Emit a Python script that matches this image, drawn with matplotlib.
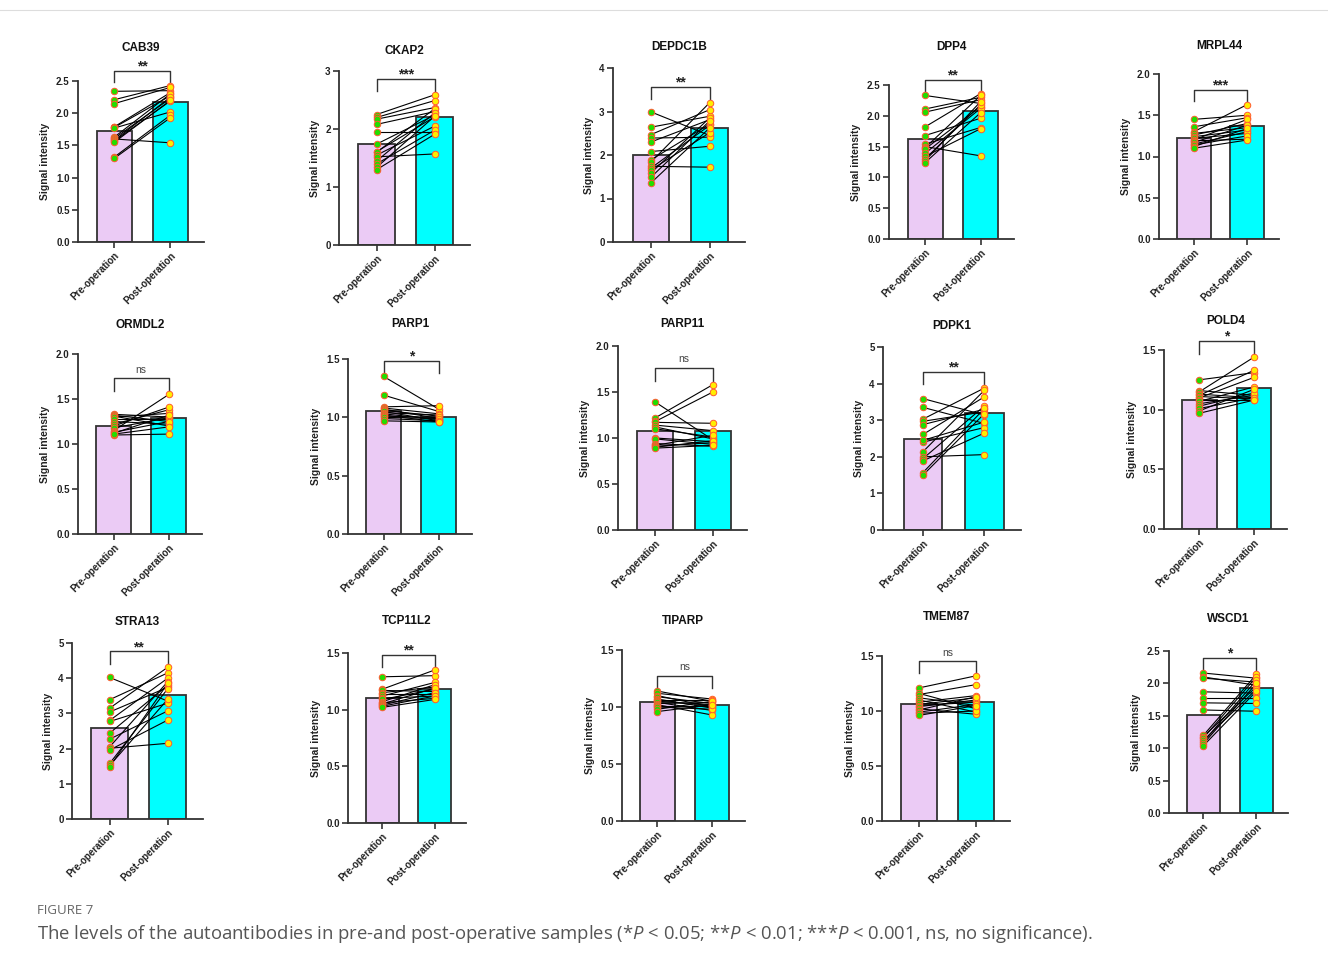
import matplotlib
matplotlib.use('Agg')
import matplotlib.pyplot as plt
from matplotlib.lines import Line2D

W, H = 1328, 967

genes = ['CAB39', 'CKAP2', 'DEPDC1B', 'DPP4', 'MRPL44',
         'ORMDL2', 'PARP1', 'PARP11', 'PDPK1', 'POLD4',
         'STRA13', 'TCP11L2', 'TIPARP', 'TMEM87', 'WSCD1']
sig = ['**', '***', '**', '**', '***',
       'ns', '*', 'ns', '**', '*',
       '**', '**', 'ns', 'ns', '*']
y_max = [2.5, 3, 4, 2.5, 2.0, 2.0, 1.5, 2.0, 5, 1.5, 5, 1.5, 1.5, 1.5, 2.5]
y_step = [0.5, 1, 1, 0.5, 0.5, 0.5, 0.5, 0.5, 1, 0.5, 1, 0.5, 0.5, 0.5, 0.5]
pre_mean = [1.72, 1.75, 2.01, 1.63, 1.23, 1.20, 1.05, 1.08, 2.49, 1.08,
            2.58, 1.10, 1.04, 1.06, 1.52]
post_mean = [2.17, 2.20, 2.61, 2.07, 1.37, 1.29, 1.00, 1.08, 3.21, 1.18,
             3.53, 1.18, 1.02, 1.08, 1.93]
groups = ['Pre-operation', 'Post-operation']

# paired samples, same order in pre and post
cab39_pre = [2.34, 2.21, 2.15, 1.79, 1.78, 1.77, 1.63, 1.61, 1.60, 1.58, 1.57, 1.55, 1.32, 1.30]
cab39_post = [2.35, 2.43, 2.40, 2.32, 2.27, 2.02, 2.30, 2.23, 1.54, 2.25, 2.19, 2.20, 1.97, 1.93]
ckap2_pre = [2.25, 2.20, 2.17, 2.08, 1.94, 1.74, 1.61, 1.60, 1.55, 1.52, 1.45, 1.40, 1.34, 1.30]
ckap2_post = [2.59, 2.49, 2.37, 2.30, 1.94, 2.24, 2.21, 2.35, 2.05, 1.57, 2.28, 1.98, 2.22, 1.91]
depdc1b_pre = [2.99, 2.64, 2.47, 2.39, 2.30, 2.08, 1.89, 1.84, 1.74, 1.70, 1.66, 1.59, 1.49, 1.36]
depdc1b_post = [2.45, 2.89, 3.04, 2.41, 2.81, 2.20, 2.71, 3.20, 1.72, 2.68, 2.51, 2.85, 2.78, 2.62]
dpp4_pre = [2.33, 2.11, 2.06, 1.82, 1.68, 1.54, 1.50, 1.48, 1.46, 1.39, 1.34, 1.30, 1.27, 1.24]
dpp4_post = [2.20, 2.30, 2.26, 2.36, 1.96, 1.81, 1.35, 2.33, 2.15, 2.12, 1.79, 2.18, 2.23, 2.05]
mrpl44_pre = [1.45, 1.36, 1.30, 1.28, 1.26, 1.24, 1.22, 1.20, 1.19, 1.17, 1.15, 1.14, 1.12, 1.10]
mrpl44_post = [1.50, 1.47, 1.63, 1.35, 1.40, 1.32, 1.28, 1.45, 1.21, 1.38, 1.30, 1.25, 1.34, 1.20]
ormdl2_pre = [1.33, 1.32, 1.31, 1.30, 1.28, 1.25, 1.22, 1.20, 1.18, 1.15, 1.13, 1.12, 1.10, 1.11]
ormdl2_post = [1.30, 1.25, 1.20, 1.34, 1.28, 1.22, 1.38, 1.41, 1.29, 1.55, 1.25, 1.32, 1.11, 1.19]
parp1_pre = [1.35, 1.19, 1.09, 1.08, 1.07, 1.06, 1.05, 1.04, 1.03, 1.02, 1.01, 1.00, 0.99, 0.97]
parp1_post = [1.07, 1.05, 1.10, 1.03, 0.99, 1.01, 0.97, 1.02, 0.98, 0.96, 1.00, 0.99, 0.97, 0.96]
parp11_pre = [1.39, 1.22, 1.18, 1.17, 1.14, 1.12, 1.10, 1.00, 0.99, 0.94, 0.92, 0.91, 0.90, 0.89]
parp11_post = [0.98, 1.58, 1.50, 1.16, 1.08, 0.99, 1.01, 0.96, 0.93, 0.91, 1.03, 0.95, 0.97, 0.92]
pdpk1_pre = [3.59, 3.35, 3.03, 2.97, 2.88, 2.61, 2.40, 2.45, 2.14, 2.00, 1.95, 1.89, 1.57, 1.50]
pdpk1_post = [3.14, 2.91, 3.88, 3.23, 3.30, 3.64, 2.80, 2.95, 3.82, 2.06, 3.39, 2.65, 3.32, 3.18]
pold4_pre = [1.25, 1.16, 1.15, 1.13, 1.12, 1.11, 1.10, 1.08, 1.07, 1.05, 1.03, 1.01, 0.99, 0.97]
pold4_post = [1.31, 1.12, 1.44, 1.10, 1.33, 1.09, 1.27, 1.08, 1.19, 1.12, 1.14, 1.10, 1.17, 1.08]
stra13_pre = [4.02, 3.39, 3.15, 3.04, 2.80, 2.77, 2.44, 2.27, 2.05, 2.01, 1.96, 1.58, 1.52, 1.49]
stra13_post = [3.35, 4.15, 4.31, 3.74, 4.00, 3.29, 3.80, 3.07, 3.90, 2.15, 2.81, 3.70, 3.40, 3.85]
tcp11l2_pre = [1.29, 1.18, 1.17, 1.15, 1.14, 1.12, 1.10, 1.09, 1.07, 1.06, 1.05, 1.04, 1.03, 1.02]
tcp11l2_post = [1.30, 1.35, 1.16, 1.20, 1.14, 1.24, 1.12, 1.18, 1.22, 1.10, 1.19, 1.15, 1.12, 1.09]
tiparp_pre = [1.14, 1.12, 1.10, 1.09, 1.07, 1.06, 1.05, 1.04, 1.03, 1.02, 1.01, 1.00, 0.98, 0.96]
tiparp_post = [1.05, 1.07, 1.00, 1.03, 0.99, 1.06, 1.02, 0.97, 1.04, 0.93, 1.01, 0.98, 1.05, 1.02]
tmem87_pre = [1.21, 1.16, 1.15, 1.12, 1.10, 1.08, 1.06, 1.05, 1.04, 1.02, 1.01, 0.99, 0.98, 0.96]
tmem87_post = [1.32, 1.02, 1.24, 1.05, 0.99, 1.14, 1.12, 1.08, 1.10, 0.97, 1.13, 1.06, 1.00, 1.05]
wscd1_pre = [2.16, 2.10, 2.08, 1.87, 1.77, 1.70, 1.59, 1.20, 1.18, 1.16, 1.12, 1.10, 1.07, 1.04]
wscd1_post = [2.08, 1.97, 2.02, 1.85, 1.77, 1.69, 1.57, 2.14, 1.95, 2.10, 1.91, 2.05, 2.00, 1.88]

pre_vals = [cab39_pre, ckap2_pre, depdc1b_pre, dpp4_pre, mrpl44_pre,
            ormdl2_pre, parp1_pre, parp11_pre, pdpk1_pre, pold4_pre,
            stra13_pre, tcp11l2_pre, tiparp_pre, tmem87_pre, wscd1_pre]
post_vals = [cab39_post, ckap2_post, depdc1b_post, dpp4_post, mrpl44_post,
             ormdl2_post, parp1_post, parp11_post, pdpk1_post, pold4_post,
             stra13_post, tcp11l2_post, tiparp_post, tmem87_post, wscd1_post]

# panel layout in reference pixels: y-axis x, axis top y, axis bottom y, category spacing, title y
layout = [(78, 81, 242, 56, 48), (339, 71, 245, 58, 51), (613, 68, 242, 58.5, 47),
          (889, 85, 239, 55.5, 47), (1159, 74, 239, 53.5, 46),
          (78, 354, 534, 55, 325), (348, 359, 534, 55, 324), (618, 346, 530, 57.5, 324),
          (883, 347, 530, 61.5, 326), (1164, 350, 529, 54.5, 321),
          (72, 643, 819, 58, 622), (348, 653, 823, 52.5, 621), (622, 650, 821, 54.5, 621),
          (882, 656, 821, 57, 617), (1169, 651, 813, 53, 619)]

PRE_C = '#ebcbf5'
POST_C = '#00ffff'
EDGE = '#333333'
GREEN = '#22dd00'
YELLOW = '#ffee00'
PT_EDGE = '#ff5a30'
XL = (-0.65, 1.6)

plt.rcParams['font.family'] = ['Liberation Sans', 'DejaVu Sans']
plt.rcParams['mathtext.fontset'] = 'custom'
plt.rcParams['mathtext.it'] = 'Open Sans:italic'
plt.rcParams['mathtext.rm'] = 'Open Sans'

fig = plt.figure(figsize=(W / 100, H / 100), dpi=100)

for i, g in enumerate(genes):
    x0, ytop, ybot, s, ty = layout[i]
    ax = fig.add_axes([x0 / W, 1 - ybot / H, (XL[1] - XL[0]) * s / W, (ybot - ytop) / H])
    ax.bar([0, 1], [pre_mean[i], post_mean[i]], width=0.63, color=[PRE_C, POST_C],
           edgecolor=EDGE, linewidth=1.3, zorder=1)
    pre, post = pre_vals[i], post_vals[i]
    for a, b in zip(pre, post):
        ax.plot([0, 1], [a, b], color='black', lw=0.8, zorder=2)
    ax.scatter([0] * len(pre), pre, s=22, c=GREEN, edgecolors=PT_EDGE, linewidths=0.7,
               zorder=3, clip_on=False)
    ax.scatter([1] * len(post), post, s=22, c=YELLOW, edgecolors=PT_EDGE, linewidths=0.7,
               zorder=3, clip_on=False)

    ym = y_max[i]
    ax.set_xlim(*XL)
    ax.set_ylim(0, ym)
    n_ticks = int(round(ym / y_step[i]))
    ticks = [k * y_step[i] for k in range(n_ticks + 1)]
    ax.set_yticks(ticks)
    if y_step[i] < 1:
        ax.set_yticklabels([f'{t:.1f}' for t in ticks])
    else:
        ax.set_yticklabels([f'{t:.0f}' for t in ticks])
    ax.set_xticks([0, 1])
    ax.set_xticklabels(groups, rotation=45, ha='right', rotation_mode='anchor',
                       fontsize=7, fontweight='bold')
    for lab in ax.get_yticklabels():
        lab.set_fontweight('bold')
    ax.tick_params(direction='out', length=4, width=1.2, color=EDGE, labelsize=7,
                   labelcolor='#222222', pad=2)
    ax.set_ylabel('Signal intensity', fontsize=7.5, fontweight='bold', color='#222222',
                  labelpad=4)
    for sp in ['top', 'right']:
        ax.spines[sp].set_visible(False)
    for sp in ['left', 'bottom']:
        ax.spines[sp].set_linewidth(1.3)
        ax.spines[sp].set_color(EDGE)

    # significance bracket
    yb = max(max(pre), max(post)) + 0.09 * ym
    tip = 0.07 * ym
    ax.add_line(Line2D([0, 0, 1, 1], [yb - tip, yb, yb, yb - tip], color=EDGE, lw=1.0,
                       clip_on=False))
    if sig[i] == 'ns':
        ax.text(0.5, yb + 0.02 * ym, 'ns', ha='center', va='bottom', fontsize=7.5,
                color='#444444')
    else:
        ax.text(0.5, yb - 0.015 * ym, sig[i], ha='center', va='bottom', fontsize=10,
                fontweight='bold', color='#222222')

    fig.text((x0 + (XL[1] - XL[0]) * s / 2) / W, 1 - ty / H, g, ha='center', va='center',
             fontsize=8.5, fontweight='bold', color='#111111')

fig.add_artist(Line2D([0, 1], [1 - 10 / H, 1 - 10 / H], color='#dddddd', lw=0.8))
fig.text(37 / W, 1 - 910 / H, 'FIGURE 7', ha='left', va='center', fontsize=9.5,
         color='#666666', family='Open Sans')
fig.text(37 / W, 1 - 934 / H,
         'The levels of the autoantibodies in pre-and post-operative samples '
         '(*$P$ < 0.05; **$P$ < 0.01; ***$P$ < 0.001, ns, no significance).',
         ha='left', va='center', fontsize=13.3, color='#555555', family='Open Sans')

fig.savefig('out.png', dpi=100)
